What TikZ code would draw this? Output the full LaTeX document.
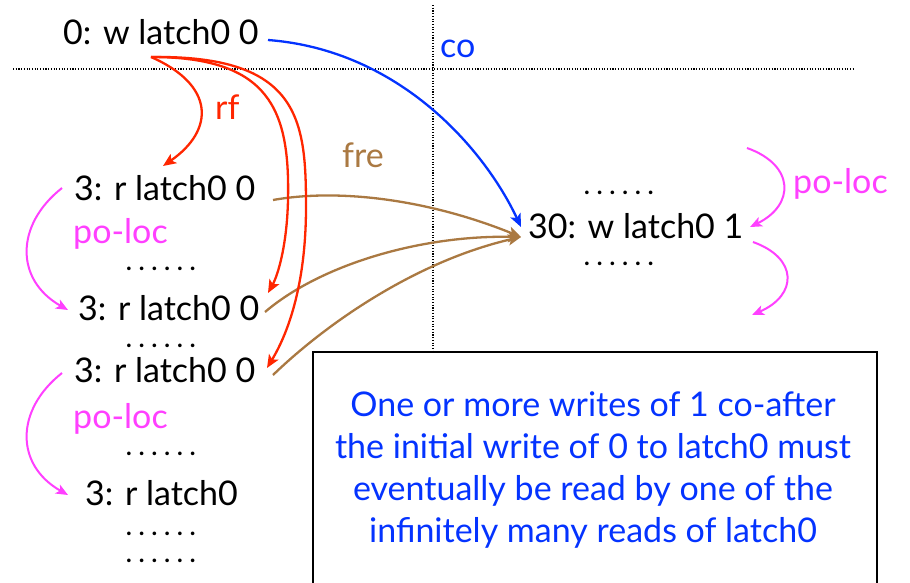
\documentclass[tikz,border=0pt]{standalone}
\usepackage{fontspec}
\setmainfont{Lato}
\usetikzlibrary{arrows.meta}
\definecolor{cred}{HTML}{FF2600}
\definecolor{cblue}{HTML}{0433FF}
\definecolor{cbrown}{HTML}{AA7942}
\definecolor{cpink}{HTML}{FF40FF}
\newcommand\sixdots{.\kern7pt.\kern7pt.\kern7pt.\kern7pt.\kern7pt.}
\tikzset{
  txt/.style={inner sep=0pt, anchor=base west, font=\fontsize{34}{40}\selectfont},
  dotrow/.style={inner sep=0pt, anchor=base west, font=\fontsize{24}{26}\selectfont\bfseries},
  arr/.style={line width=2.3pt, -{Stealth[length=13pt,width=11pt,inset=3pt]}},
  parr/.style={line width=2pt, -{Stealth[length=12pt,width=10pt,inset=3pt]}},
  sep/.style={line width=1.1pt, dash pattern=on 1.1pt off 1.6pt},
}
\begin{document}
\begin{tikzpicture}[x=1pt,y=-1pt]
\useasboundingbox[fill=white] (0,0) rectangle (910,582);
% separators
\coordinate (hl) at (13,69);
\coordinate (hr) at (855,69);
\coordinate (vt) at (433,5);
\coordinate (vb) at (433,352);
\draw[sep] (hl) -- (hr);
\draw[sep] (vt) -- (vb);
% events
\node[txt] (w0) at (63,44) {0: w latch0 0};
\node[txt] (r1) at (74,200) {3: r latch0 0};
\node[txt] (r2) at (78,320) {3: r latch0 0};
\node[txt] (r3) at (74,382) {3: r latch0 0};
\node[txt] (r4) at (85,505) {3: r latch0};
\node[txt] (w30) at (528,238) {30: w latch0 1};
% dots
\node[dotrow] (d1) at (126,270) {\sixdots};
\node[dotrow] (d2) at (126,347) {\sixdots};
\node[dotrow] (d3) at (126,455) {\sixdots};
\node[dotrow] (d4) at (126,535) {\sixdots};
\node[dotrow] (d5) at (126,562) {\sixdots};
\node[dotrow] (d6) at (584,194) {\sixdots};
\node[dotrow] (d7) at (584,265) {\sixdots};
% labels
\node[txt, text=cred] (lrf) at (215,119) {rf};
\node[txt, text=cbrown] (lfre) at (342,167) {fre};
\node[txt, text=cblue] (lco) at (440,57) {co};
\node[txt, text=cpink] (lp1) at (73,243) {po-loc};
\node[txt, text=cpink] (lp2) at (73,428) {po-loc};
\node[txt, text=cpink] (lp3) at (793,193) {po-loc};
% connector end points
\coordinate (w0s) at (151,57);
\coordinate (w0e) at (268,40);
\coordinate (r1e) at (163,166);
\coordinate (r2e) at (268,293);
\coordinate (r3e) at (267,368);
\coordinate (r1o) at (273,200);
\coordinate (r2o) at (265,312);
\coordinate (r3o) at (273,375);
\coordinate (w30w) at (521,237);
\coordinate (w30n) at (521,227);
% fre
\draw[arr, cbrown] (r1o) .. controls (340,188) and (430,200) .. (w30w);
\draw[arr, cbrown] (r2o) .. controls (320,265) and (420,235) .. (w30w);
\draw[arr, cbrown] (r3o) .. controls (330,320) and (420,260) .. (w30w);
% rf
\draw[arr, cred] (w0s) .. controls (215,85) and (215,130) .. (r1e);
\draw[arr, cred] (w0s) .. controls (270,57) and (290,110) .. (288,200)
   .. controls (287,245) and (278,275) .. (r2e);
\draw[arr, cred] (w0s) .. controls (300,55) and (306,120) .. (306,207)
   .. controls (306,280) and (290,330) .. (r3e);
% co
\draw[arr, cblue] (w0e) .. controls (400,50) and (485,150) .. (w30n);
% po-loc
\coordinate (p1s) at (62,188);
\coordinate (p1e) at (68,310);
\coordinate (p2s) at (62,373);
\coordinate (p2e) at (68,495);
\coordinate (p3s) at (747,148);
\coordinate (p3e) at (750,227);
\coordinate (p4s) at (753,242);
\coordinate (p4e) at (752,315);
\draw[parr, cpink] (p1s) .. controls (15,225) and (15,280) .. (p1e);
\draw[parr, cpink] (p2s) .. controls (15,410) and (15,465) .. (p2e);
\draw[parr, cpink] (p3s) .. controls (795,165) and (795,205) .. (p3e);
\draw[parr, cpink] (p4s) .. controls (798,258) and (798,295) .. (p4e);
% note box
\node[draw, line width=1.8pt, fill=white, anchor=north west, inner sep=0pt,
      minimum width=564pt, minimum height=260pt] (box) at (312,351) {};
\node[inner sep=0pt, anchor=base, align=center, text=cblue,
      font=\fontsize{34}{42}\selectfont] (note) at (593,542)
  {One or more writes of 1 co-after\\
   the initial write of 0 to latch0 must\\
   eventually be read by one of the\\
   infinitely many reads of latch0};
\end{tikzpicture}
\end{document}
